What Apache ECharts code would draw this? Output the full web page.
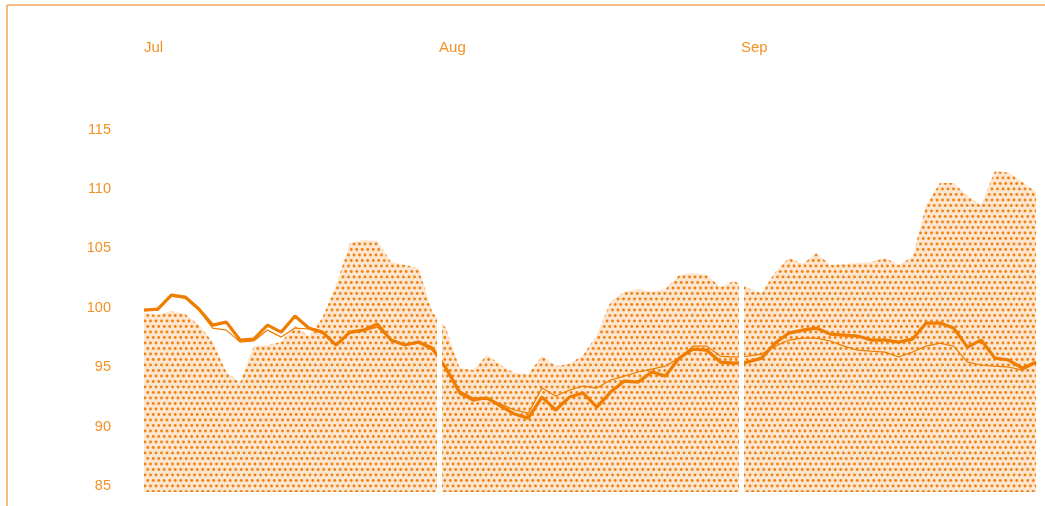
<!DOCTYPE html>
<html>
<head>
<meta charset="utf-8">
<script src="https://cdn.jsdelivr.net/npm/echarts@6/dist/echarts.min.js"></script>
<style>
html,body{margin:0;padding:0;background:#fff;}
#chart{width:1045px;height:506px;}
</style>
</head>
<body>
<div id="chart"></div>
<script>
// ---- data (trading days, Jul–Sep) ----
const months = ['Jul', 'Aug', 'Sep'];
const monthBreaks = [0, 21.5, 43.5];       // index positions where months begin
const gapBreaks = [21.5, 43.5];            // month separators
const yTicks = [85, 90, 95, 100, 105, 110, 115];

const rangeTop = [
  99.56, 99.39, 99.73, 99.48, 98.55, 97.12, 94.60, 93.70, 96.78, 96.87, 97.12,
  98.47, 97.63, 99.14, 101.92, 105.45, 105.71, 105.62, 103.86, 103.60, 103.35, 99.65,
  98.30, 94.93, 94.76, 96.03, 95.19, 94.51, 94.43, 95.94, 95.10, 95.27, 96.03,
  97.71, 100.49, 101.33, 101.58, 101.33, 101.58, 102.76, 102.93, 102.76, 101.75, 102.26,
  101.67, 101.25, 103.01, 104.19, 103.69, 104.61, 103.60, 103.69, 103.77, 103.86, 104.19,
  103.60, 104.28, 108.65, 110.51, 110.51, 109.41, 108.65, 111.50, 111.40, 110.59, 109.75
];
const thickLine = [
  99.81, 99.90, 101.08, 100.91, 99.90, 98.55, 98.80, 97.29, 97.37, 98.55, 97.96,
  99.31, 98.30, 97.96, 96.87, 97.96, 98.13, 98.64, 97.29, 96.87, 97.12, 96.62,
  94.93, 92.91, 92.32, 92.41, 91.73, 91.06, 90.72, 92.49, 91.40, 92.49, 92.83,
  91.65, 92.91, 93.84, 93.75, 94.60, 94.26, 95.77, 96.53, 96.45, 95.44, 95.35,
  95.44, 95.77, 97.04, 97.88, 98.13, 98.30, 97.79, 97.71, 97.63, 97.29, 97.29,
  97.12, 97.37, 98.72, 98.72, 98.30, 96.70, 97.29, 95.77, 95.61, 94.93, 95.44
];
const thinLine = [
  99.81, 99.81, 100.99, 100.82, 99.81, 98.30, 98.13, 97.12, 97.21, 98.13, 97.54,
  98.30, 98.22, 97.88, 96.95, 97.88, 98.05, 98.38, 97.29, 96.87, 97.04, 96.45,
  94.93, 92.74, 92.15, 92.41, 91.90, 91.40, 91.14, 93.25, 92.58, 93.08, 93.42,
  93.25, 93.92, 94.26, 94.60, 94.85, 95.10, 95.77, 96.78, 96.78, 95.94, 95.86,
  95.94, 96.11, 96.78, 97.29, 97.46, 97.46, 97.21, 96.78, 96.45, 96.36, 96.28,
  95.86, 96.28, 96.78, 97.04, 96.78, 95.44, 95.19, 95.10, 95.02, 94.76, 95.35
];

// ---- styling ----
const ORANGE = '#ef7d00';
const TEXT = '#f39125';
const FRAME = '#f6ab62';

function pair(arr) { return arr.map((v, i) => [i, v]); }

// dotted pattern for the range area
const tile = document.createElement('canvas');
tile.width = 11; tile.height = 11;
const g = tile.getContext('2d');
g.fillStyle = '#fde6d0';
g.fillRect(0, 0, 11, 11);
g.fillStyle = '#f08214';
const dots = [[2, 2], [7.5, 2], [4.75, 7.5], [10.25, 7.5], [-0.75, 7.5]];
dots.forEach(([x, y]) => { g.beginPath(); g.arc(x, y, 1.45, 0, Math.PI * 2); g.fill(); });

const chart = echarts.init(document.getElementById('chart'), null, { renderer: 'canvas' });
chart.setOption({
  animation: false,
  backgroundColor: '#fff',
  grid: { left: 144, right: 9, top: 100, bottom: 14, containLabel: false },
  xAxis: {
    type: 'value', min: 0, max: thickLine.length - 1, position: 'top',
    axisLine: { show: false }, axisTick: { show: false }, splitLine: { show: false },
    axisLabel: {
      customValues: monthBreaks,
      formatter: (v) => months[monthBreaks.indexOf(v)] || '',
      align: 'left', margin: 45, color: TEXT,
      fontFamily: 'Liberation Sans', fontSize: 15
    }
  },
  yAxis: {
    type: 'value', min: 84.5, max: 117.5,
    axisLine: { show: false }, axisTick: { show: false }, splitLine: { show: false },
    axisLabel: {
      customValues: yTicks, margin: 33, color: TEXT,
      fontFamily: 'Liberation Sans', fontSize: 14.5
    }
  },
  graphic: [
    { type: 'line', shape: { x1: 7, y1: 5, x2: 1045, y2: 5 }, style: { stroke: FRAME, lineWidth: 1.6 }, z: 100 },
    { type: 'line', shape: { x1: 7, y1: 5, x2: 7, y2: 506 }, style: { stroke: FRAME, lineWidth: 1.6 }, z: 100 }
  ],
  series: [
    {
      name: 'range', type: 'line', data: pair(rangeTop), z: 1,
      symbol: 'none', lineStyle: { width: 0 },
      areaStyle: { color: { image: tile, repeat: 'repeat' }, opacity: 1, origin: 'start' },
      silent: true
    },
    {
      name: 'gaps', type: 'line', data: [], z: 2, symbol: 'none',
      markLine: {
        silent: true, symbol: ['none', 'none'], label: { show: false },
        lineStyle: { color: '#ffffff', width: 5, type: 'solid', opacity: 1 },
        data: gapBreaks.map(v => ({ xAxis: v }))
      }
    },
    {
      name: 'thin', type: 'line', data: pair(thinLine), z: 3,
      symbol: 'none', lineStyle: { color: ORANGE, width: 1.2 }
    },
    {
      name: 'thick', type: 'line', data: pair(thickLine), z: 4,
      symbol: 'none', lineStyle: { color: ORANGE, width: 3.2 }
    }
  ]
});
</script>
</body>
</html>
